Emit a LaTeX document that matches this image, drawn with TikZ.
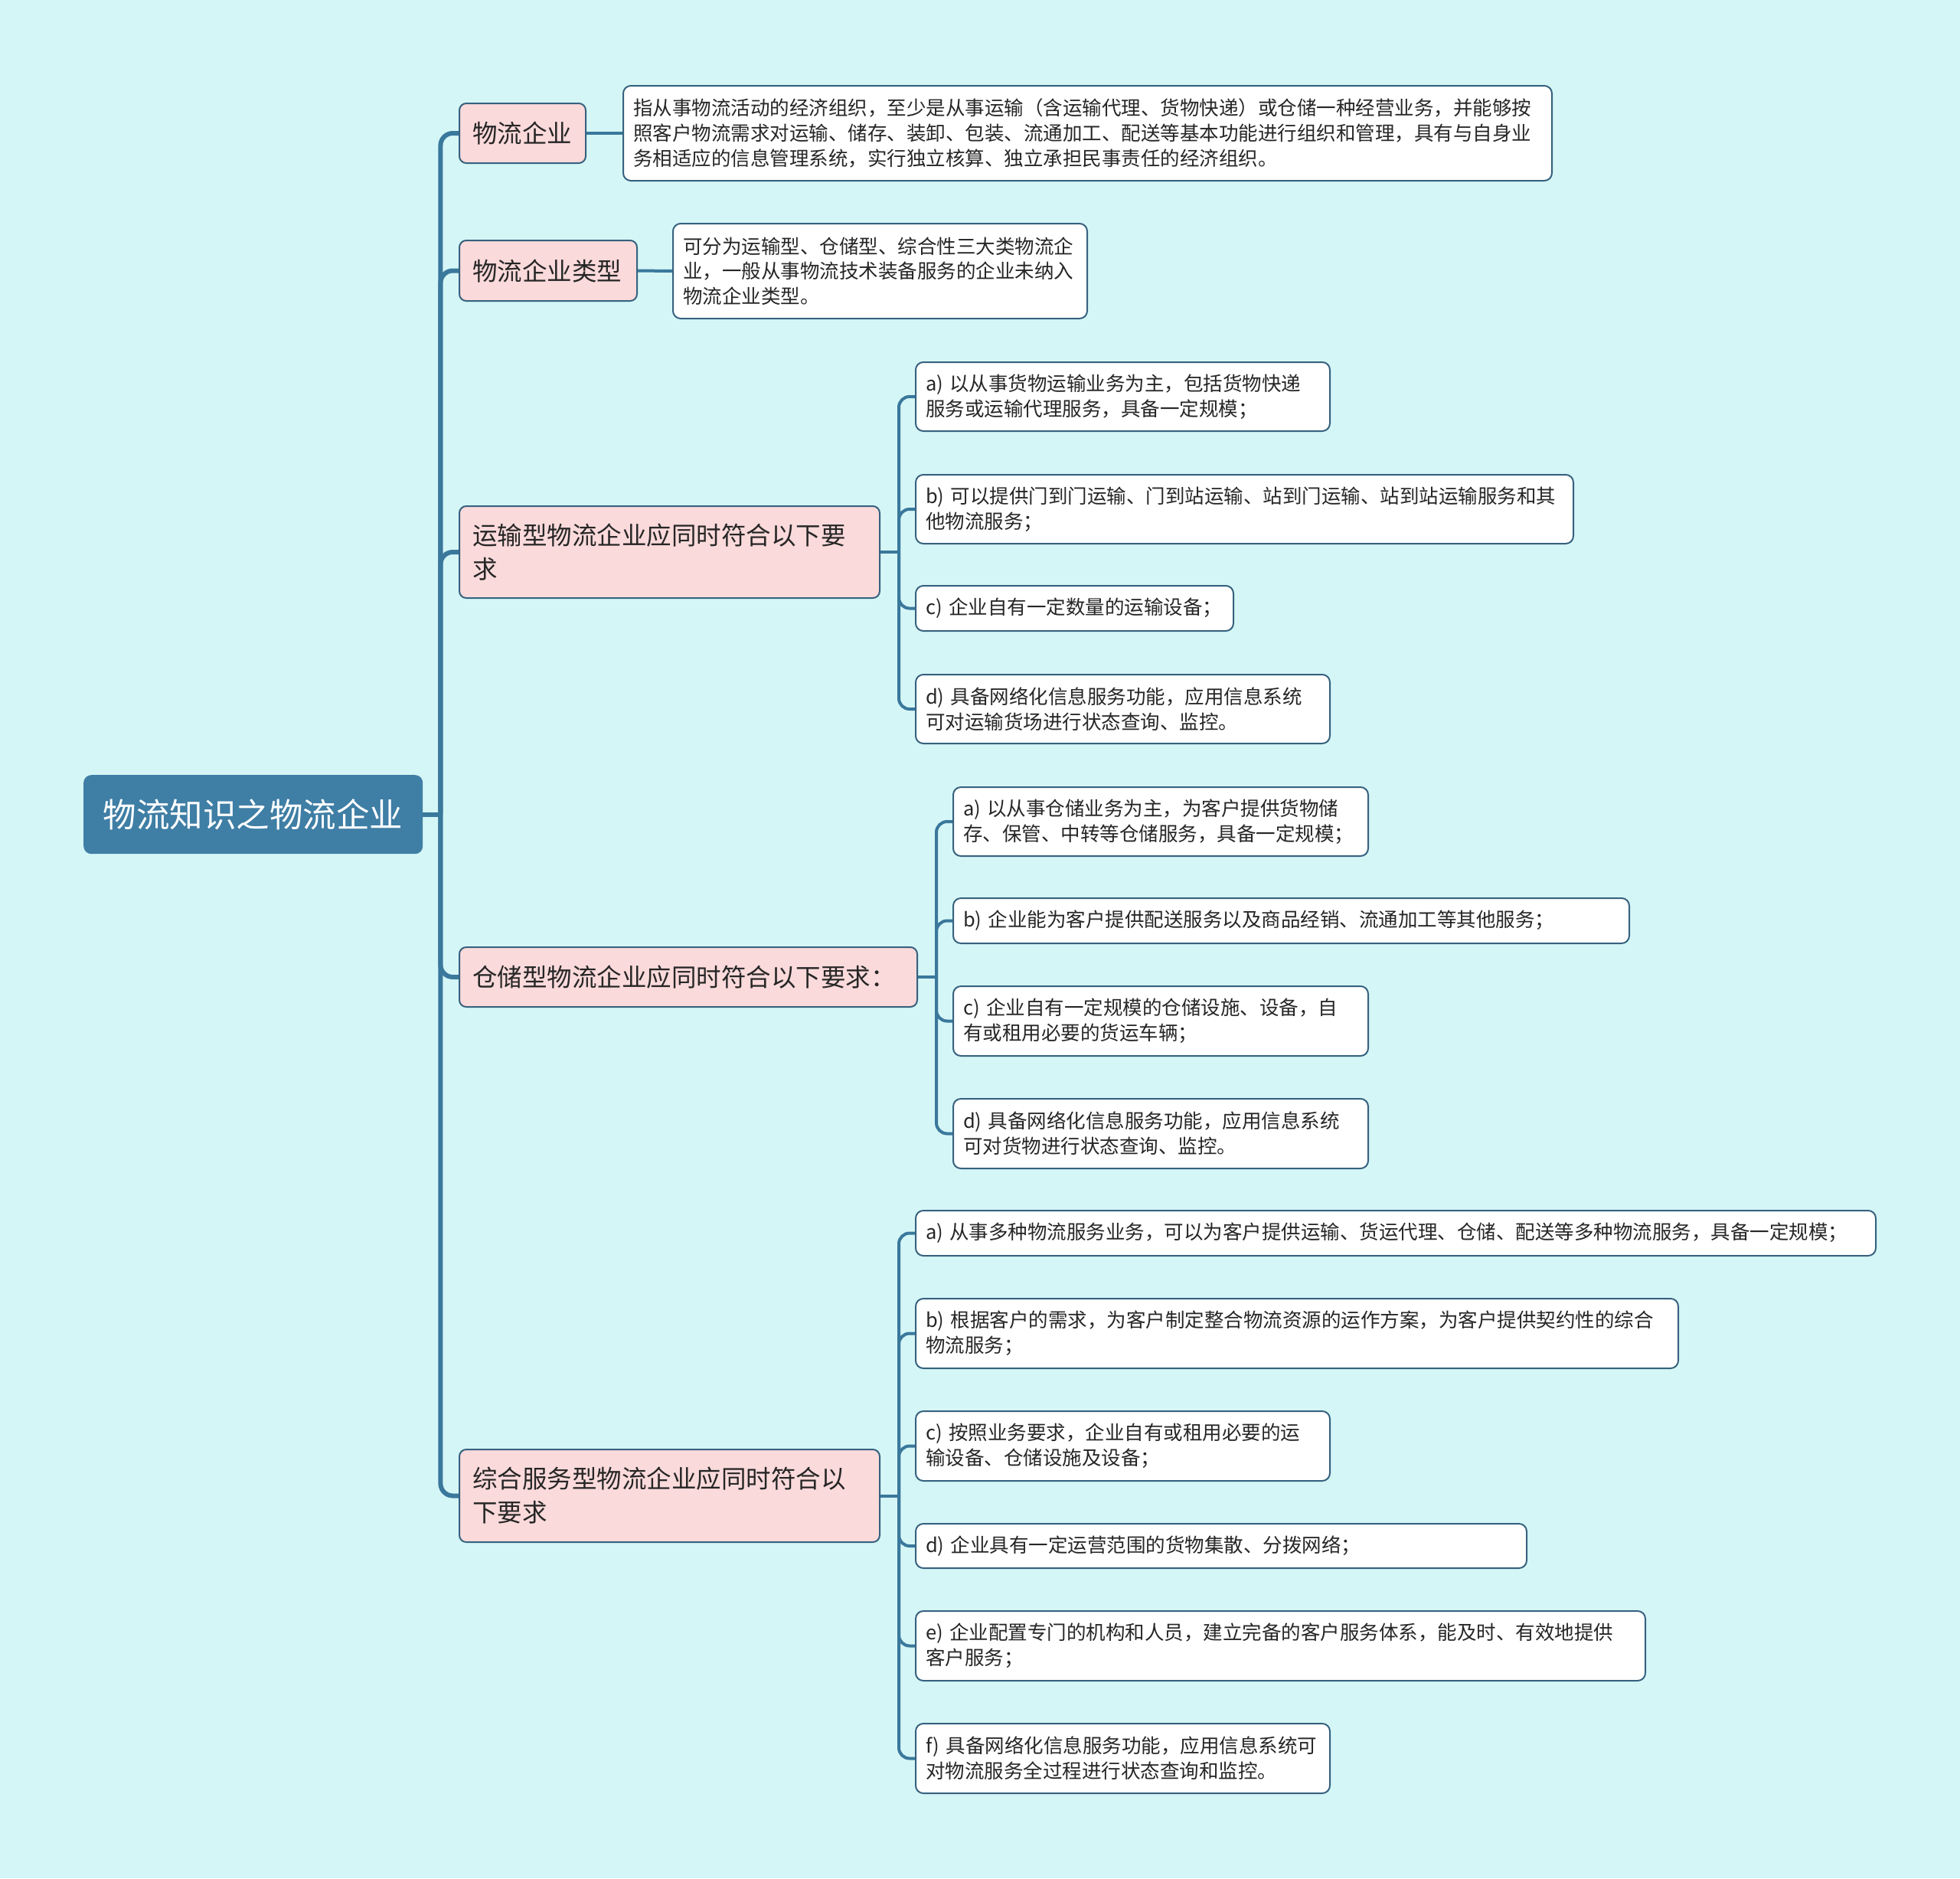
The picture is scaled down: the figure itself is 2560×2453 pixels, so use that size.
\documentclass[tikz,border=0pt]{standalone}
\usepackage{fontspec}
\setmainfont{Noto Sans CJK SC}
\definecolor{bgc}{HTML}{D5F6F6}
\definecolor{rootc}{HTML}{3F7EA5}
\definecolor{linec}{HTML}{3A789C}
\definecolor{bordc}{HTML}{36627F}
\definecolor{pinkc}{HTML}{FBDADB}
\definecolor{txtc}{HTML}{262626}
\newcommand\leaffont{\fontsize{25.5}{32.7}\selectfont}
\newcommand\midfont{\fontsize{32.5}{44}\selectfont}
\newcommand\rootfont{\fontsize{43.5}{50}\selectfont}
\tikzset{
  leaf/.style={draw=bordc, fill=white, rounded corners=10pt, line width=2pt,
    inner xsep=13pt, inner ysep=3pt, align=left, font=\leaffont, text=txtc,
    anchor=north west},
  midbox/.style={draw=bordc, fill=pinkc, rounded corners=9pt, line width=2pt,
    inner xsep=17pt, inner ysep=3pt, align=left, font=\midfont, text=txtc,
    anchor=north west},
  rootbox/.style={fill=rootc, rounded corners=10pt, inner xsep=0pt, inner ysep=0pt,
    align=center, font=\rootfont, text=white, anchor=north west},
  trunk/.style={draw=linec, line width=6pt},
  sub/.style={draw=linec, line width=4pt},
}
\begin{document}
\begin{tikzpicture}[x=1pt,y=-1pt]
\useasboundingbox (0,0) rectangle (2560,2453);
\fill[bgc] (0,0) rectangle (2560,2453);

% root
\node[rootbox, minimum width=443pt, minimum height=103pt] (root) at (109,1012) {物流知识之物流企业};

% level 1
\node[midbox, text width=131pt, minimum height=78pt] (m1) at (599,134) {物流企业};
\node[midbox, text width=198pt, minimum height=79pt] (m2) at (599,313) {物流企业类型};
\node[midbox, text width=515pt, minimum height=120pt] (m3) at (599,660) {运输型物流企业应同时符合以下要\\求};
\node[midbox, text width=564pt, minimum height=78pt] (m4) at (599,1236) {仓储型物流企业应同时符合以下要求：};
\node[midbox, text width=515pt, minimum height=121pt] (m5) at (599,1892) {综合服务型物流企业应同时符合以\\下要求};

% level 2
\node[leaf, text width=1187pt, minimum height=124pt] (l1) at (813,111) {指从事物流活动的经济组织，至少是从事运输（含运输代理、货物快递）或仓储一种经营业务，并能够按\\照客户物流需求对运输、储存、装卸、包装、流通加工、配送等基本功能进行组织和管理，具有与自身业\\务相适应的信息管理系统，实行独立核算、独立承担民事责任的经济组织。};
\node[leaf, text width=515pt, minimum height=124pt] (l2) at (878,291) {可分为运输型、仓储型、综合性三大类物流企\\业，一般从事物流技术装备服务的企业未纳入\\物流企业类型。};

\node[leaf, text width=515pt, minimum height=90pt] (l3a) at (1195,472) {a) 以从事货物运输业务为主，包括货物快递\\服务或运输代理服务，具备一定规模；};
\node[leaf, text width=833pt, minimum height=90pt] (l3b) at (1195,619) {b) 可以提供门到门运输、门到站运输、站到门运输、站到站运输服务和其\\他物流服务；};
\node[leaf, text width=389pt, minimum height=59pt] (l3c) at (1195,764) {c) 企业自有一定数量的运输设备；};
\node[leaf, text width=515pt, minimum height=90pt] (l3d) at (1195,880) {d) 具备网络化信息服务功能，应用信息系统\\可对运输货场进行状态查询、监控。};

\node[leaf, text width=516pt, minimum height=90pt] (l4a) at (1244,1027) {a) 以从事仓储业务为主，为客户提供货物储\\存、保管、中转等仓储服务，具备一定规模；};
\node[leaf, text width=857pt, minimum height=59pt] (l4b) at (1244,1172) {b) 企业能为客户提供配送服务以及商品经销、流通加工等其他服务；};
\node[leaf, text width=516pt, minimum height=91pt] (l4c) at (1244,1287) {c) 企业自有一定规模的仓储设施、设备，自\\有或租用必要的货运车辆；};
\node[leaf, text width=516pt, minimum height=91pt] (l4d) at (1244,1434) {d) 具备网络化信息服务功能，应用信息系统\\可对货物进行状态查询、监控。};

\node[leaf, text width=1228pt, minimum height=59pt] (l5a) at (1195,1580) {a) 从事多种物流服务业务，可以为客户提供运输、货运代理、仓储、配送等多种物流服务，具备一定规模；};
\node[leaf, text width=970pt, minimum height=91pt] (l5b) at (1195,1695) {b) 根据客户的需求，为客户制定整合物流资源的运作方案，为客户提供契约性的综合\\物流服务；};
\node[leaf, text width=515pt, minimum height=91pt] (l5c) at (1195,1842) {c) 按照业务要求，企业自有或租用必要的运\\输设备、仓储设施及设备；};
\node[leaf, text width=772pt, minimum height=58pt] (l5d) at (1195,1989) {d) 企业具有一定运营范围的货物集散、分拨网络；};
\node[leaf, text width=927pt, minimum height=91pt] (l5e) at (1195,2103) {e) 企业配置专门的机构和人员，建立完备的客户服务体系，能及时、有效地提供\\客户服务；};
\node[leaf, text width=515pt, minimum height=91pt] (l5f) at (1195,2250) {f) 具备网络化信息服务功能，应用信息系统可\\对物流服务全过程进行状态查询和监控。};

% connectors root -> level 1
\draw[trunk] (root.east) -- ++(23,0) coordinate (tj);
\foreach \n in {m1,m2,m3,m4,m5}
  \draw[trunk, rounded corners=16pt] (tj) |- (\n.west);

% level 1 -> level 2
\draw[sub] (m1.east) -- (l1.west);
\draw[sub] (m2.east) -- (l2.west);

\draw[sub] (m3.east) -- ++(24,0) coordinate (j3);
\foreach \n in {l3a,l3b,l3c,l3d}
  \draw[sub, rounded corners=14pt] (j3) |- (\n.west);

\draw[sub] (m4.east) -- ++(24,0) coordinate (j4);
\foreach \n in {l4a,l4b,l4c,l4d}
  \draw[sub, rounded corners=14pt] (j4) |- (\n.west);

\draw[sub] (m5.east) -- ++(24,0) coordinate (j5);
\foreach \n in {l5a,l5b,l5c,l5d,l5e,l5f}
  \draw[sub, rounded corners=14pt] (j5) |- (\n.west);
\end{tikzpicture}
\end{document}
